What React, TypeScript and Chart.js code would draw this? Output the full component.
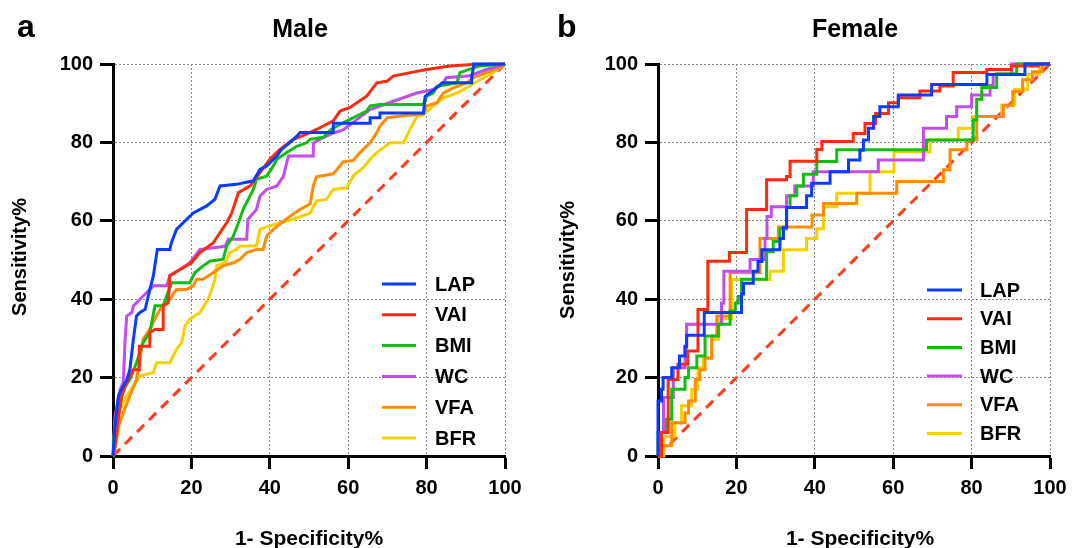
import { useEffect, useRef } from 'react';
import { Chart, registerables } from 'chart.js';
Chart.register(...registerables);

const seriesNames = ['LAP', 'VAI', 'BMI', 'WC', 'VFA', 'BFR'];
const seriesColors = ['#0a3cff', '#ff2a0d', '#12bd12', '#c04ded', '#ff8c00', '#f5d000'];
const axisTicks = [0, 20, 40, 60, 80, 100];
const diagonal = [[0, 0], [100, 100]];

// Male ROC curves: [1-Specificity%, Sensitivity%]
const maleLAP = [[0,0],[0.5,7.6],[1.4,15.3],[2.2,17],[3.5,19.4],[4.3,22],[5.2,29.8],[6,35.7],[6.9,36.6],[8.2,37.4],[9.4,42.5],[10.3,46],[11.3,52.7],[14.5,52.7],[14.9,54.4],[16.2,57.8],[18.8,60.4],[20.5,62],[23.9,63.8],[26,65.5],[27.3,68.9],[31.5,69.3],[35.8,70.2],[37.5,73.1],[39.2,74],[41.8,76.5],[43,78.2],[45.2,80],[46.9,81.6],[47.7,82.5],[56.2,82.5],[56.2,84.9],[65.6,84.9],[65.6,86.3],[68.1,86.3],[68.1,87.5],[79.2,87.5],[79.6,91.7],[83,94.3],[84,95.2],[91.5,95.2],[91.5,96.8],[92,99.4],[92,100],[100,100]];
const maleVAI = [[0,0],[0.5,2.5],[1.4,10],[2.2,15.3],[3.5,18.7],[5.2,22],[6.7,22],[6.7,28],[9.4,28],[9.4,31.5],[10.7,32.3],[12.8,32.3],[12.8,38.3],[14.1,39.1],[14.5,46],[17.1,47.6],[20,49.3],[22.2,51.9],[25.6,54.4],[27.3,57],[29,59.5],[30.3,62],[32,67.2],[35,68.9],[37.5,72.3],[40,75.7],[42.6,78.2],[46,80.8],[49.4,82.1],[51.9,83.3],[56.2,85.5],[57.9,88],[60.5,88.9],[62.2,90.1],[64.7,91.8],[67.3,95.2],[69.9,95.6],[71.5,96.9],[75.8,97.8],[80,98.6],[86,99.5],[91.5,99.9],[100,100]];
const maleBMI = [[0,0],[0.1,4.3],[1.4,11],[2.6,17],[4.3,19.5],[6,23.8],[7.7,29],[9.4,31.5],[10.7,38.3],[12.8,38.3],[13.7,40.8],[15,44.2],[19.6,44.2],[20.9,46.8],[23,48.5],[24.7,49.7],[28.1,50.2],[29,53.6],[30.7,56.1],[32,59.5],[33.2,62.9],[35.8,68],[36.6,70.6],[39.2,71.4],[40.9,74],[41.8,75.7],[44.3,77.4],[46.9,79],[49.4,79.9],[50.3,80.8],[53.7,81.3],[55.6,83.3],[58.7,85],[64.7,88],[65.6,89.3],[68.1,89.7],[79.2,89.7],[80,91.8],[81.7,92.6],[82.6,94.3],[87.7,95.2],[88.5,97.8],[92,99],[93.6,99.5],[100,100]];
const maleWC = [[0,0],[0.5,10],[1.8,17],[2.6,18.7],[3.1,29.8],[3.5,35.7],[4.8,36.6],[5.2,38.3],[6.9,40],[8.6,41.7],[10.3,43.4],[13.7,43.4],[14.5,46],[17.1,47.6],[19.6,49.3],[22.2,52.7],[25.6,53.1],[28.6,53.5],[29.4,55.3],[34.1,55.3],[34.4,60.4],[36.6,62.9],[37.5,66.3],[39.2,68],[41.8,68.9],[43.5,71.4],[44.3,74.8],[44.8,76.5],[51.1,76.5],[51.1,79.8],[52.8,80.8],[56.2,82.4],[58.7,83.2],[62.2,85.8],[65.6,88.4],[71.5,90.5],[77.5,92.6],[81.7,93.5],[84.3,95.2],[85,96.5],[91,97],[95.3,98.6],[97,99.1],[100,100]];
const maleVFA = [[0,0],[0.5,1.7],[1.4,7.6],[2.6,11],[4.3,15.3],[6,19.5],[7.7,29.8],[9.4,32.3],[10.7,34.9],[12,37.4],[13.7,39.1],[15,40.8],[16.2,42.5],[18.8,42.5],[20.5,43.4],[21.3,45.1],[23,45.1],[25.6,46.8],[28.1,48.5],[30.7,49.3],[32.4,50.2],[34.1,51.9],[36.6,52.7],[38.3,52.7],[39.2,56.1],[40.9,57.8],[43,59.5],[45.2,61.2],[47.7,62.9],[50.3,64.3],[51.1,69],[51.9,71.2],[56.2,72],[58.7,75],[61.3,75.4],[63,77.4],[65.6,79.9],[67.3,82.5],[68.1,84.2],[70,86.3],[74.1,86.8],[79.2,87.2],[80,89.3],[82.6,90.1],[84.3,92.6],[86.8,93.9],[90.2,95.2],[91.8,96.5],[95.3,97.8],[98.7,99.1],[100,100]];
const maleBFR = [[0,0],[0.5,5.1],[1.8,11.9],[3.5,15.3],[5.2,17.9],[6.9,20.4],[10.3,21.3],[11.1,23.8],[14.5,23.8],[16.2,27.2],[17.5,28.9],[18.4,33.2],[19.6,34.9],[22.2,36.6],[24.3,40],[25.2,42.5],[26,45.1],[26.4,48.5],[28.6,49.3],[29.8,51.9],[31.5,52.7],[32.4,53.6],[36.6,53.6],[37.5,57.8],[40,58.7],[42.6,59.5],[46,60.4],[50.3,62],[51.9,65],[54.5,65.5],[56.2,68],[59.6,68.4],[61.3,71.5],[63.9,73.6],[65.6,75.7],[67.3,77.4],[70.7,79.9],[74.1,79.9],[76.6,84.9],[77.5,86.6],[79.2,87],[81.7,89.3],[84.3,91.4],[87.7,92.6],[90.2,93.9],[93.6,96],[97,97.8],[100,100]];

// Female ROC curves (step corners)
const femaleLAP = [[0,0],[0,14],[0.9,14],[0.9,17],[1.3,17],[1.3,20],[3.5,20],[3.5,22.5],[5.5,22.5],[5.5,25.5],[6.9,25.5],[6.9,28],[7.3,28],[7.3,30.8],[11.8,30.8],[11.8,36.6],[21.3,36.6],[21.3,41.3],[21.8,41.3],[21.8,44.1],[24.3,44.1],[24.3,47.1],[25.5,47.1],[25.5,49.6],[26.5,49.6],[26.5,52.6],[31.1,52.6],[31.1,55.5],[32,55.5],[32,58.3],[32.8,58.3],[32.8,63.4],[37.9,63.4],[37.9,66.4],[39.2,66.4],[39.2,69.6],[43.9,69.6],[43.9,72.5],[48.6,72.5],[48.6,75.5],[51.5,75.5],[51.5,78],[52.4,78],[52.4,80.6],[53.7,80.6],[53.7,83.6],[55,83.6],[55,86.6],[56.6,86.6],[56.6,89.1],[61.3,89.1],[61.3,92.1],[69.8,92.1],[69.8,94.8],[83.9,94.8],[83.9,97.3],[93.6,97.3],[93.6,100],[100,100]];
const femaleVAI = [[0,0],[0.9,0],[0.9,6],[2.6,6],[2.6,19.5],[5.1,19.5],[5.1,23.4],[7.6,23.4],[7.6,26.8],[10.2,26.8],[10.2,37.4],[12.7,37.4],[12.7,49.7],[18.2,49.7],[18.2,51.9],[22.6,51.9],[22.6,62.9],[27.7,62.9],[27.7,70.5],[32.8,70.5],[32.8,71.3],[33.7,71.3],[33.7,75.2],[40.5,75.2],[40.5,78.2],[41.8,78.2],[41.8,80.2],[49.8,80.2],[49.8,82.3],[52.8,82.3],[52.8,84.8],[55.5,84.8],[55.5,87.4],[58.8,87.4],[58.8,90.1],[61.3,90.1],[61.3,91.4],[66.8,91.4],[66.8,93.1],[71.9,93.1],[71.9,94.4],[75.3,94.4],[75.3,97.8],[83.9,97.8],[83.9,98.6],[90.1,98.6],[90.1,99.5],[97,99.5],[97,100],[100,100]];
const femaleBMI = [[0,0],[0,6],[2.2,6],[2.2,9.4],[3.5,9.4],[3.5,17],[6.9,17],[6.9,20],[7.8,20],[7.8,22.5],[9.9,22.5],[9.9,25.5],[12,25.5],[12,30.6],[15.4,30.6],[15.4,33.6],[18.4,33.6],[18.4,37],[19.7,37],[19.7,39],[20.5,39],[20.5,40.7],[21.3,40.7],[21.3,45.1],[27.7,45.1],[27.7,52.1],[29.4,52.1],[29.4,54.7],[31.1,54.7],[31.1,58],[32.8,58],[32.8,63.4],[33.7,63.4],[33.7,66.4],[35.4,66.4],[35.4,68.9],[37.1,68.9],[37.1,71.9],[40.5,71.9],[40.5,75.1],[45.6,75.1],[45.6,78.1],[68.5,78.1],[68.5,80.6],[80.4,80.6],[80.4,85.8],[81.3,85.8],[81.3,91],[82.6,91],[82.6,94],[86.4,94],[86.4,97.5],[91.5,97.5],[91.5,100],[100,100]];
const femaleWC = [[0,0],[0.5,0],[0.5,6],[1.4,6],[1.4,14.9],[3.9,14.9],[3.9,22.5],[6.9,22.5],[6.9,27.6],[7.3,27.6],[7.3,33.6],[16.2,33.6],[16.2,39],[16.8,39],[16.8,47.1],[23.5,47.1],[23.5,50.1],[27.3,50.1],[27.3,55.5],[27.8,55.5],[27.8,61.1],[28.9,61.1],[28.9,63.6],[32.8,63.6],[32.8,66.4],[34.9,66.4],[34.9,68.9],[39.6,68.9],[39.6,72.5],[56.2,72.5],[56.2,75.5],[67.7,75.5],[67.7,83.6],[73.6,83.6],[73.6,86.6],[76.2,86.6],[76.2,89.1],[80,89.1],[80,92.1],[84.7,92.1],[84.7,94.5],[85.5,94.5],[85.5,97.3],[90.2,97.3],[90.2,100],[100,100]];
const femaleVFA = [[0,0],[0.8,0],[0.8,2.6],[3.5,2.6],[3.5,8.5],[6.9,8.5],[6.9,11],[7.8,11],[7.8,14],[9.5,14],[9.5,19.5],[10.7,19.5],[10.7,22],[12,22],[12,25],[13.7,25],[13.7,30.6],[15,30.6],[15,35.7],[18.4,35.7],[18.4,46.8],[26,46.8],[26,55.5],[30.7,55.5],[30.7,58.4],[39.3,58.4],[39.3,61.5],[42.2,61.5],[42.2,64.4],[50.7,64.4],[50.7,67],[60.9,67],[60.9,70],[72.8,70],[72.8,73],[74.5,73],[74.5,78.1],[78.8,78.1],[78.8,80.6],[81.3,80.6],[81.3,86.6],[88.1,86.6],[88.1,89.5],[90.5,89.5],[90.5,93],[93,93],[93,96],[95.5,96],[95.5,98],[98,98],[98,100],[100,100]];
const femaleBFR = [[0,0],[1.5,0],[1.5,5],[4.3,5],[4.3,8.5],[6,8.5],[6,12.8],[8.6,12.8],[8.6,17],[10.2,17],[10.2,22.5],[11.5,22.5],[11.5,25],[13.7,25],[13.7,29.8],[15.5,29.8],[15.5,35],[18.8,35],[18.8,45],[28.6,45],[28.6,47.1],[32,47.1],[32,52.6],[37.9,52.6],[37.9,55.5],[40.5,55.5],[40.5,58],[42.2,58],[42.2,63.6],[45.6,63.6],[45.6,67],[54.1,67],[54.1,72.5],[60.2,72.5],[60.2,77.6],[69.4,77.6],[69.4,80.6],[76.6,80.6],[76.6,83.6],[80.4,83.6],[80.4,86.6],[87.7,86.6],[87.7,89.5],[91,89.5],[91,93.5],[94.3,93.5],[94.3,97.3],[97.3,97.3],[97.3,99.5],[100,100]];

const maleSeries = [maleLAP, maleVAI, maleBMI, maleWC, maleVFA, maleBFR];
const femaleSeries = [femaleLAP, femaleVAI, femaleBMI, femaleWC, femaleVFA, femaleBFR];

const FONT = "'Liberation Sans', Arial, Helvetica, sans-serif";

type PanelSpec = {
  letter: string;
  title: string;
  series: number[][][];
  padLeft: number;
  padRight: number;
  letterX: number;
  titleX: number;
  yTitleX: number;
  yTitleY: number;
  xTitleX: number;
  legLineX1: number;
  legLineX2: number;
  legTextX: number;
  legY0: number;
  legStep: number;
};

const panels: PanelSpec[] = [
  { letter: 'a', title: 'Male', series: maleSeries, padLeft: 53, padRight: 31, letterX: 17, titleX: 300, yTitleX: 20, yTitleY: 257, xTitleX: 309, legLineX1: 382, legLineX2: 416, legTextX: 435, legY0: 284, legStep: 30.8 },
  { letter: 'b', title: 'Female', series: femaleSeries, padLeft: 62, padRight: 22, letterX: 21, titleX: 319, yTitleX: 32, yTitleY: 260, xTitleX: 324, legLineX1: 391, legLineX2: 426, legTextX: 444, legY0: 290, legStep: 28.7 },
];

function Panel({ spec }: { spec: PanelSpec }) {
  const ref = useRef<HTMLCanvasElement | null>(null);
  useEffect(() => {
    if (!ref.current) return;
    const datasets: any[] = spec.series.map((pts, i) => ({
      label: seriesNames[i],
      data: pts.map(([x, y]) => ({ x, y })),
      borderColor: seriesColors[i],
      backgroundColor: seriesColors[i],
      borderWidth: 3,
      pointRadius: 0,
      fill: false,
      tension: 0,
      clip: 6,
    }));
    datasets.push({
      label: 'ref',
      data: diagonal.map(([x, y]) => ({ x, y })),
      borderColor: '#ff3a1a',
      borderWidth: 3,
      borderDash: [10, 7],
      pointRadius: 0,
      fill: false,
      clip: 6,
    });
    const overlay = {
      id: 'overlay',
      afterDraw(chart: any) {
        const ctx = chart.ctx;
        ctx.save();
        ctx.fillStyle = '#000';
        ctx.textAlign = 'left';
        ctx.textBaseline = 'alphabetic';
        ctx.font = `bold 32px ${FONT}`;
        ctx.fillText(spec.letter, spec.letterX, 37);
        ctx.textAlign = 'center';
        ctx.font = `bold 25px ${FONT}`;
        ctx.fillText(spec.title, spec.titleX, 37);
        ctx.font = `bold 21px ${FONT}`;
        ctx.fillText('1- Specificity%', spec.xTitleX, 545);
        ctx.save();
        ctx.translate(spec.yTitleX, spec.yTitleY);
        ctx.rotate(-Math.PI / 2);
        ctx.textBaseline = 'middle';
        ctx.font = `bold 20px ${FONT}`;
        ctx.fillText('Sensitivity%', 0, 0);
        ctx.restore();
        // legend
        ctx.textAlign = 'left';
        ctx.textBaseline = 'middle';
        ctx.font = `bold 20px ${FONT}`;
        seriesNames.forEach((name, i) => {
          const y = spec.legY0 + i * spec.legStep;
          ctx.strokeStyle = seriesColors[i];
          ctx.lineWidth = 3;
          ctx.setLineDash([]);
          ctx.beginPath();
          ctx.moveTo(spec.legLineX1, y);
          ctx.lineTo(spec.legLineX2, y);
          ctx.stroke();
          ctx.fillStyle = '#000';
          ctx.fillText(name, spec.legTextX, y + 1);
        });
        ctx.restore();
      },
    };
    const tickFont = { family: FONT, size: 20, weight: 'bold' as const };
    const common = (isX: boolean) => ({
      type: 'linear' as const,
      min: 0,
      max: 100,
      afterBuildTicks: (s: any) => {
        s.ticks = axisTicks.map((v) => ({ value: v }));
      },
      afterFit: (s: any) => {
        if (isX) {
          s.height = 50;
          s.paddingLeft = 0;
          s.paddingRight = 0;
        } else {
          s.width = 60;
          s.paddingTop = 0;
          s.paddingBottom = 0;
        }
      },
      ticks: { font: tickFont, color: '#000', padding: 7, maxRotation: 0, autoSkip: false },
      grid: { color: '#8a8a8a', lineWidth: 1, tickColor: '#000', tickWidth: 3, tickLength: 13 },
      border: { display: true, color: '#000', width: 3, dash: [2, 2] },
    });
    const chart = new Chart(ref.current, {
      type: 'line',
      data: { datasets },
      options: {
        animation: false,
        responsive: false,
        events: [],
        layout: { padding: { left: spec.padLeft, right: spec.padRight, top: 64, bottom: 42 } },
        plugins: { legend: { display: false }, tooltip: { enabled: false }, title: { display: false } },
        scales: { x: { ...common(true), position: 'bottom' }, y: { ...common(false), position: 'left' } },
      },
      plugins: [overlay],
    } as any);
    return () => chart.destroy();
  }, [spec]);
  return <canvas ref={ref} width={536} height={548} style={{ display: 'block', width: 536, height: 548 }} />;
}

export default function App() {
  return (
    <div style={{ position: 'absolute', left: 0, top: 0, width: 1072, height: 548, background: '#fff', display: 'flex' }}>
      {panels.map((p) => (
        <Panel key={p.letter} spec={p} />
      ))}
    </div>
  );
}
